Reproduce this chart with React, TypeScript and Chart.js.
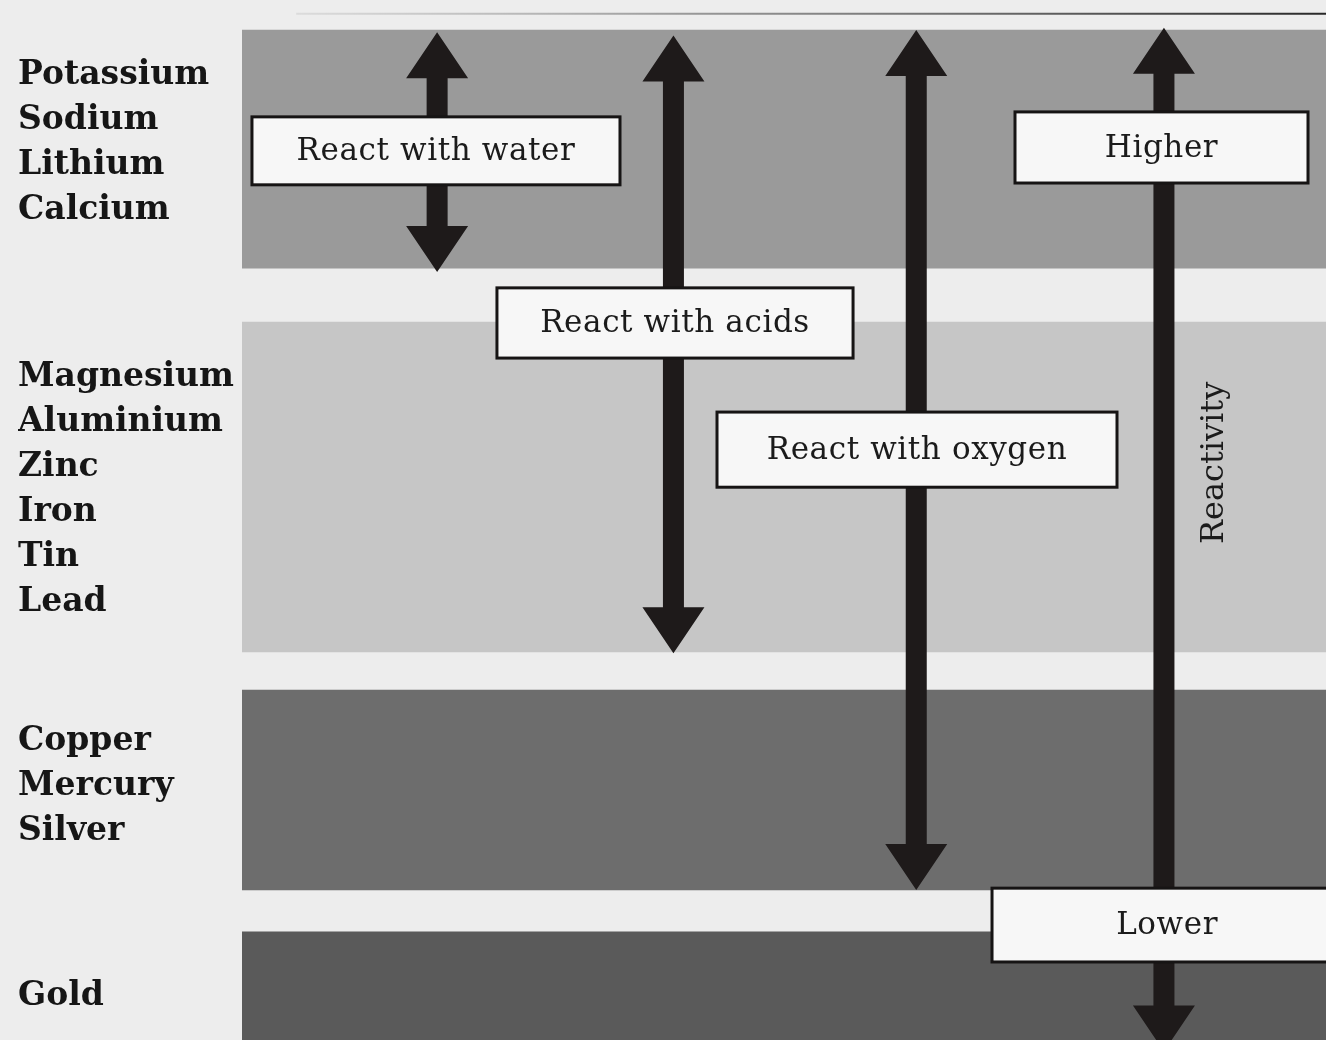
import React, { useEffect, useRef } from "react";
import { Chart, registerables } from "chart.js";

Chart.register(...registerables);

// ---- data (positions in "row" units on the reactivity axis; 0 = top of the series) ----
const METALS = [
  "Potassium", "Sodium", "Lithium", "Calcium",
  "Magnesium", "Aluminium", "Zinc", "Iron", "Tin", "Lead",
  "Copper", "Mercury", "Silver",
  "Gold",
];
const METAL_POS = [1, 2, 3, 4, 7.73, 8.73, 9.73, 10.73, 11.73, 12.73, 15.8, 16.8, 17.8, 21.47];

const BAND_START = [0, 6.49, 14.67, 20.04];
const BAND_END = [5.29, 13.82, 19.11, 22.7];
const BAND_COLORS = ["#9a9a9a", "#c6c6c6", "#6d6d6d", "#5a5a5a"];

const ARROW_NAMES = ["water", "acids", "oxygen", "reactivity"];
const ARROW_X = [18.0, 39.8, 62.2, 85.05];
const ARROW_TOP = [0.05, 0.12, 0.0, -0.05];
const ARROW_BOTTOM = [5.38, 13.85, 19.11, 22.7];

const BOX_TEXT = ["React with water", "React with acids", "React with oxygen", "Higher", "Lower"];
const BOX_X0 = [0.92, 23.52, 43.82, 71.31, 69.19];
const BOX_X1 = [34.87, 56.37, 80.72, 98.34, 101.5];
const BOX_Y0 = [1.93, 5.73, 8.49, 1.82, 19.07];
const BOX_Y1 = [3.44, 7.29, 10.16, 3.4, 20.71];

const AXIS_TITLE = "Reactivity";
const AXIS_TITLE_X = 89.76;
const AXIS_TITLE_Y = 9.62;

const Y_MIN = -0.667;
const Y_MAX = 22.444;
const TOP_RULE_Y = -0.36;
const TOP_RULE_X0 = 5;

// ---- styles ----
const PAPER = "#ededed";
const INK = "#1e1a1a";

const diagramPlugin = {
  id: "diagram",
  beforeDraw(chart: any) {
    const { ctx, width, height } = chart;
    ctx.save();
    ctx.fillStyle = PAPER;
    ctx.fillRect(0, 0, width, height);
    ctx.restore();
  },
  afterDatasetsDraw(chart: any) {
    const { ctx } = chart;
    const xs = chart.scales.x;
    const ys = chart.scales.y;
    ctx.save();

    // faint rule along the top edge
    const ry = ys.getPixelForValue(TOP_RULE_Y);
    const rx0 = xs.getPixelForValue(TOP_RULE_X0);
    const rx1 = xs.getPixelForValue(100);
    const grad = ctx.createLinearGradient(rx0, 0, rx1, 0);
    grad.addColorStop(0, "rgba(120,120,120,0.15)");
    grad.addColorStop(0.4, "rgba(90,90,90,0.6)");
    grad.addColorStop(1, "rgba(30,30,30,0.95)");
    ctx.strokeStyle = grad;
    ctx.lineWidth = 2;
    ctx.beginPath();
    ctx.moveTo(rx0, ry);
    ctx.lineTo(rx1, ry);
    ctx.stroke();

    // double-headed arrows
    const shaftW = 21;
    const headW = 62;
    const headL = 46;
    ctx.fillStyle = INK;
    ARROW_NAMES.forEach((_, i) => {
      const x = xs.getPixelForValue(ARROW_X[i]);
      const yt = ys.getPixelForValue(ARROW_TOP[i]);
      const yb = ys.getPixelForValue(ARROW_BOTTOM[i]);
      ctx.beginPath();
      ctx.moveTo(x, yt);
      ctx.lineTo(x + headW / 2, yt + headL);
      ctx.lineTo(x + shaftW / 2, yt + headL);
      ctx.lineTo(x + shaftW / 2, yb - headL);
      ctx.lineTo(x + headW / 2, yb - headL);
      ctx.lineTo(x, yb);
      ctx.lineTo(x - headW / 2, yb - headL);
      ctx.lineTo(x - shaftW / 2, yb - headL);
      ctx.lineTo(x - shaftW / 2, yt + headL);
      ctx.lineTo(x - headW / 2, yt + headL);
      ctx.closePath();
      ctx.fill();
    });

    // labelled boxes
    BOX_TEXT.forEach((t, i) => {
      const x0 = xs.getPixelForValue(BOX_X0[i]);
      const x1 = xs.getPixelForValue(BOX_X1[i]);
      const y0 = ys.getPixelForValue(BOX_Y0[i]);
      const y1 = ys.getPixelForValue(BOX_Y1[i]);
      ctx.fillStyle = "#f7f7f7";
      ctx.fillRect(x0, y0, x1 - x0, y1 - y0);
      ctx.strokeStyle = "#161414";
      ctx.lineWidth = 3;
      ctx.strokeRect(x0, y0, x1 - x0, y1 - y0);
      ctx.fillStyle = "#1b1b1b";
      ctx.font = '31px "DejaVu Serif"';
      (ctx as any).letterSpacing = "0.6px";
      ctx.textAlign = "center";
      ctx.textBaseline = "middle";
      ctx.fillText(t, (x0 + x1) / 2, (y0 + y1) / 2 + 1);
    });
    (ctx as any).letterSpacing = "0px";

    // rotated axis title
    const tx = xs.getPixelForValue(AXIS_TITLE_X);
    const ty = ys.getPixelForValue(AXIS_TITLE_Y);
    ctx.translate(tx, ty);
    ctx.rotate(-Math.PI / 2);
    ctx.fillStyle = "#1b1b1b";
    ctx.font = '32px "DejaVu Serif"';
    ctx.textAlign = "center";
    ctx.textBaseline = "middle";
    ctx.fillText(AXIS_TITLE, 0, 0);
    ctx.restore();
  },
};

export default function App() {
  const ref = useRef<HTMLCanvasElement>(null);

  useEffect(() => {
    document.body.style.margin = "0";
    const canvas = ref.current!;
    const datasets = BAND_START.map((s, i) => ({
      label: "band" + i,
      data: [[s, BAND_END[i]]] as any,
      backgroundColor: BAND_COLORS[i],
      borderWidth: 0,
      grouped: false,
      barPercentage: 1,
      categoryPercentage: 1,
      xAxisID: "xb",
      yAxisID: "y",
    }));

    const chart = new Chart(canvas, {
      type: "bar",
      data: { labels: [""], datasets },
      plugins: [diagramPlugin],
      options: {
        animation: false,
        responsive: false,
        maintainAspectRatio: false,
        layout: { padding: { left: 18, right: 0, top: 0, bottom: 0 } },
        plugins: { legend: { display: false }, tooltip: { enabled: false } },
        events: [],
        scales: {
          xb: { type: "category", axis: "x", display: false, offset: true },
          x: { type: "linear", display: false, offset: false, min: 0, max: 100, grid: { offset: false } },
          y: {
            type: "linear",
            reverse: true,
            offset: false,
            min: Y_MIN,
            max: Y_MAX,
            grid: { display: false },
            border: { display: false },
            afterBuildTicks: (scale: any) => {
              scale.ticks = METAL_POS.map((v) => ({ value: v }));
            },
            afterFit: (scale: any) => {
              scale.width = 224;
              scale.paddingTop = 0;
              scale.paddingBottom = 0;
            },
            ticks: {
              autoSkip: false,
              crossAlign: "far",
              padding: 0,
              color: "#161616",
              font: { family: "DejaVu Serif", size: 33, weight: "bold" },
              callback: (_v: any, i: number) => METALS[i],
            },
          },
        },
      } as any,
    });
    return () => chart.destroy();
  }, []);

  return (
    <div style={{ width: 1326, height: 1040 }}>
      <canvas ref={ref} width={1326} height={1040} style={{ display: "block" }} />
    </div>
  );
}
